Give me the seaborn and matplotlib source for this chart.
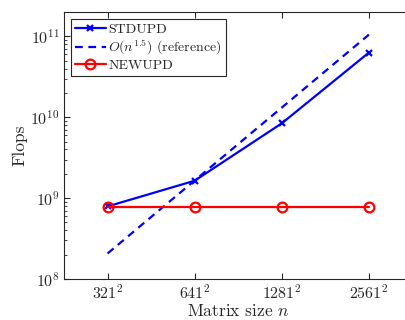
import numpy as np
import pandas as pd
import matplotlib
matplotlib.use('Agg')
import matplotlib.pyplot as plt
import seaborn as sns

# tamanhos das matrizes (n = m^2) e flops
sizes = [321, 641, 1281, 2561]
n_vals = [321**2, 641**2, 1281**2, 2561**2]
stdupd = [7.9e8, 1.64e9, 8.4e9, 6.3e10]
reference = [2.07e8, 1.65e9, 1.315e10, 1.05e11]
newupd = [7.8e8, 7.8e8, 7.8e8, 7.8e8]
tick_labels = ['$%d^2$' % s for s in sizes]

base = pd.DataFrame({'n': n_vals, 'STDUPD': stdupd, 'ref': reference, 'NEWUPD': newupd})

sns.set_style('ticks')
plt.rcParams['font.family'] = 'serif'
plt.rcParams['font.serif'] = ['cmr10', 'DejaVu Serif']
plt.rcParams['mathtext.fontset'] = 'cm'
plt.rcParams['axes.formatter.use_mathtext'] = True

fig = plt.figure(figsize=(4.05, 3.2), dpi=100)
ax = fig.add_axes([64/405, 41/320, 348.5/405, 267/320])

sns.lineplot(data=base, x='n', y='STDUPD', ax=ax, color='blue', lw=1.6,
             marker='x', markersize=5, markeredgewidth=1.6,
             markeredgecolor='blue', label='STDUPD')
sns.lineplot(data=base, x='n', y='ref', ax=ax, color='blue', lw=1.6,
             linestyle=(0, (3.5, 2.5)), label='$O(n^{1.5})$ (reference)')
sns.lineplot(data=base, x='n', y='NEWUPD', ax=ax, color='red', lw=1.6,
             marker='o', markersize=7, markerfacecolor='none',
             markeredgecolor='red', markeredgewidth=1.6, label='NEWUPD')

ax.set_xscale('log')
ax.set_yscale('log')
ax.set_xlim(n_vals[0] / 2, n_vals[-1] * 2)
ax.set_ylim(1e8, 2e11)
ax.set_xticks(n_vals)
ax.set_xticklabels(tick_labels)
ax.xaxis.set_minor_locator(matplotlib.ticker.NullLocator())
ax.set_yticks([1e8, 1e9, 1e10, 1e11])

ax.tick_params(which='both', direction='in', top=True, right=True,
               labelsize=11.5, color='0.15', labelcolor='0.15')
ax.tick_params(which='major', length=4, pad=3)
ax.tick_params(which='minor', length=2)
for sp in ax.spines.values():
    sp.set_color('0.15')
    sp.set_linewidth(0.8)

ax.set_xlabel('Matrix size $n$', fontsize=12.5, color='0.15', labelpad=1)
ax.set_ylabel('Flops', fontsize=12.5, color='0.15', labelpad=2)

leg = ax.legend(loc='upper left', fontsize=10, frameon=True, fancybox=False,
                edgecolor='0.15', framealpha=1, handlelength=2.2,
                borderaxespad=0.5, borderpad=0.3, labelspacing=0.15,
                handletextpad=0.2)
leg.get_frame().set_linewidth(0.8)

fig.savefig('out.png', dpi=100)
